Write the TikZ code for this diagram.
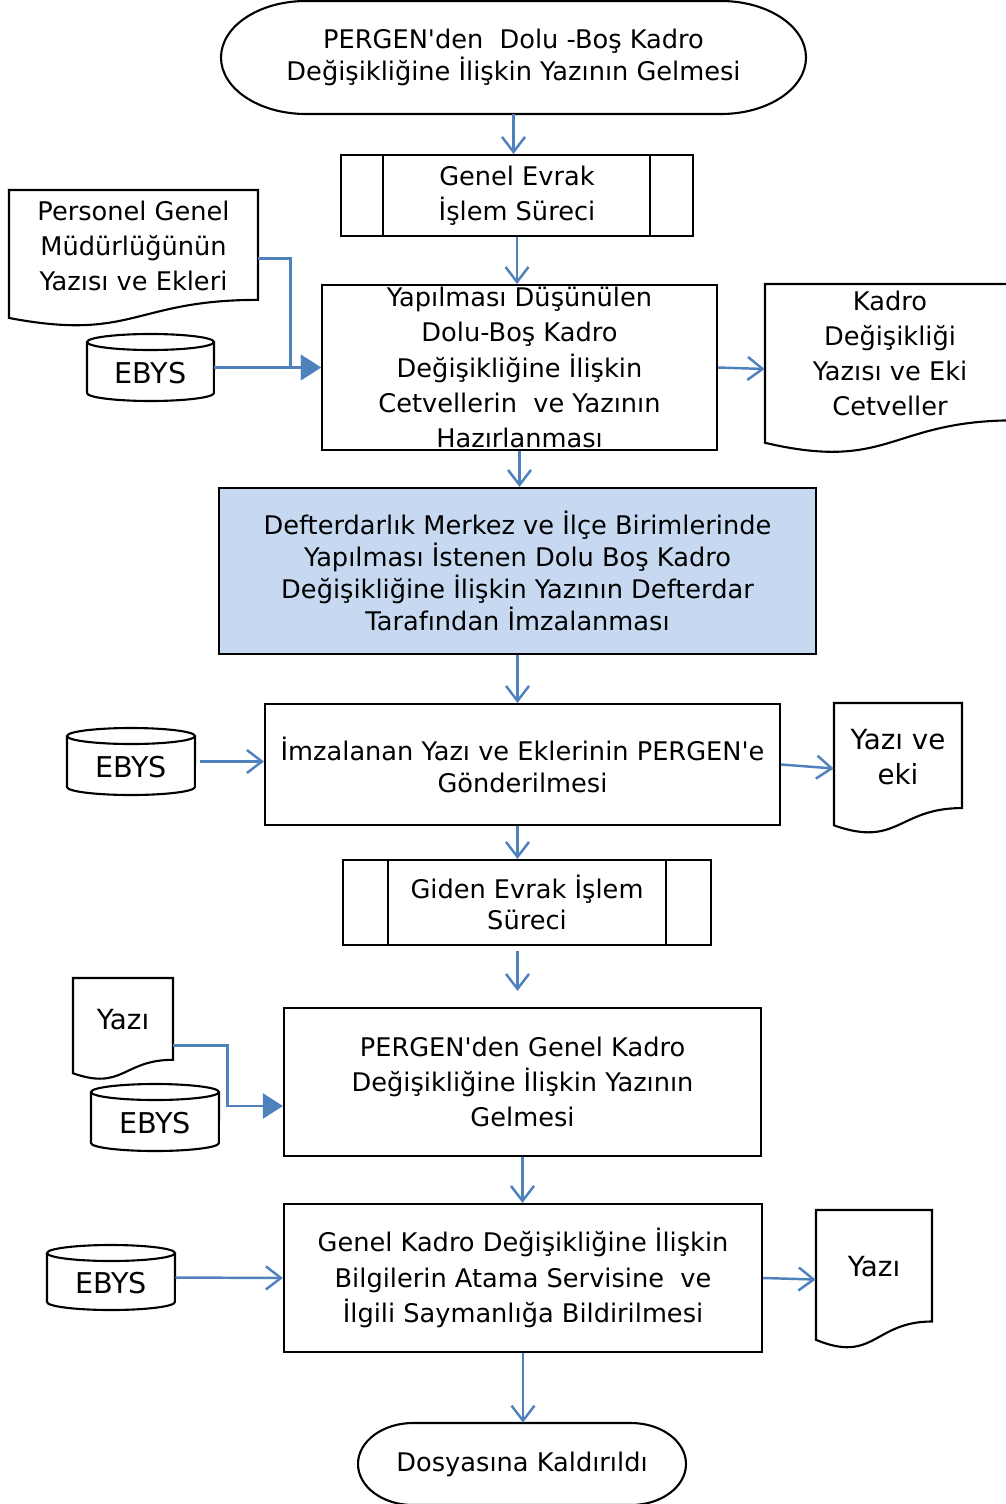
\documentclass[tikz,border=0pt]{standalone}
\usepackage{fontspec}
\setmainfont{DejaVu Sans}[Ligatures=TeXOff]
\usetikzlibrary{arrows.meta,calc}
\definecolor{lblue}{HTML}{4F81BD}
\definecolor{fillb}{HTML}{C6D9F1}
\tikzset{
  shp/.style={draw=black, line width=1.2pt},
  sz/.style 2 args={minimum width={(#1)*0.02cm}, minimum height={(#2)*0.02cm}},
  box/.style={shp, rectangle, inner sep=0pt, align=center},
  t32/.style={font=\fontsize{14.6pt}{18.2pt}\selectfont},
  t31/.style={font=\fontsize{14.6pt}{17.6pt}\selectfont},
  t35/.style={font=\fontsize{14.6pt}{20pt}\selectfont},
  tyz/.style={font=\fontsize{15.8pt}{20pt}\selectfont},
  conn/.style={draw=lblue, line width=1.4pt},
  arr/.style={conn, -{Straight Barb[length=0.3cm,width=0.46cm]}},
  tarr/.style={conn, -{Triangle[length=0.4cm,width=0.5cm]}},
}
% document shape: name, x, y, w, h, text style, text
\newcommand{\docnode}[7]{%
  \draw[shp] (#2,#3) -- ({#2+#4},#3) -- ({#2+#4},{#3+0.802*#5})
    .. controls ({#2+0.5*#4},{#3+0.802*#5}) and ({#2+0.5*#4},{#3+1.107*#5}) .. (#2,{#3+0.934*#5}) -- cycle;
  \node[inner sep=0pt, sz={#4}{#5}] (#1) at ({#2+0.5*#4},{#3+0.5*#5}) {};
  \node[#6, align=center, inner sep=0pt] (#1-t) at ({#2+0.5*#4},{#3+0.41*#5}) {#7};
}
% cylinder: name, x1, y1, x2, y2
\newcommand{\cylnode}[5]{%
  \draw[shp] (#2,{#3+8}) -- (#2,{#5-8})
    arc[start angle=180, end angle=360, x radius={(#4-#2)*0.01cm}, y radius=0.16cm] -- (#4,{#3+8});
  \draw[shp] ({(#2+#4)/2},{#3+8}) ellipse[x radius={(#4-#2)*0.01cm}, y radius=0.16cm];
  \node[inner sep=0pt, sz={#4-#2}{#5-#3}] (#1) at ({(#2+#4)/2},{(#3+#5)/2}) {};
  \node[font=\fontsize{16.3pt}{18pt}\selectfont, inner sep=0pt] (#1-t) at ({(#2+#4)/2},{(#3+#5)/2+6}) {EBYS};
}
% terminator: x1, y1, x2, y2, rx
\newcommand{\ovalshape}[5]{%
  \draw[shp] ({#1+#5},#2) -- ({#3-#5},#2)
    .. controls ({#3-#5+0.5523*#5},#2) and (#3,{(#2+#4)/2-0.5523*(#4-#2)/2}) .. (#3,{(#2+#4)/2})
    .. controls (#3,{(#2+#4)/2+0.5523*(#4-#2)/2}) and ({#3-#5+0.5523*#5},#4) .. ({#3-#5},#4)
    -- ({#1+#5},#4)
    .. controls ({#1+#5-0.5523*#5},#4) and (#1,{(#2+#4)/2+0.5523*(#4-#2)/2}) .. (#1,{(#2+#4)/2})
    .. controls (#1,{(#2+#4)/2-0.5523*(#4-#2)/2}) and ({#1+#5-0.5523*#5},#2) .. cycle;
}
\begin{document}
\begin{tikzpicture}[x=0.02cm, y=-0.02cm]
\useasboundingbox (0,0) rectangle (1006,1504);
\clip (0,0) rectangle (1006,1504);

% start
\ovalshape{221}{1}{806}{114}{85}
\node[t32, align=center, inner sep=0pt, sz={585}{113}] (start) at (513.5,57.5)
  {PERGEN'den\ \ Dolu -Boş Kadro\\Değişikliğine İlişkin Yazının Gelmesi};

% Genel Evrak
\node[box, t35, sz={352}{81}] (ge) at (517,195.5) {Genel Evrak\\İşlem Süreci};
\draw[shp] ([xshift=0.86cm]ge.north west) -- ([xshift=0.86cm]ge.south west);
\draw[shp] ([xshift=-0.88cm]ge.north east) -- ([xshift=-0.88cm]ge.south east);

% left doc + EBYS
\docnode{pgm}{9}{190}{249}{137}{t35}{Personel Genel\\Müdürlüğünün\\Yazısı ve Ekleri}
\cylnode{ebysa}{87}{334}{214}{401}

% hazirlanmasi
\node[box, t35, sz={395}{165}] (hz) at (519.5,367.5)
  {Yapılması Düşünülen\\Dolu-Boş Kadro\\Değişikliğine İlişkin\\Cetvellerin\ \ ve Yazının\\Hazırlanması};

\docnode{kadro}{765}{284}{250}{170}{t35}{Kadro\\Değişikliği\\Yazısı ve Eki\\Cetveller}

% blue box
\node[box, t32, fill=fillb, sz={597}{166}] (blue) at (517.5,571)
  {Defterdarlık Merkez ve İlçe Birimlerinde\\Yapılması İstenen Dolu Boş Kadro\\Değişikliğine İlişkin Yazının Defterdar\\Tarafından İmzalanması};

% imzalanan
\node[box, t32, sz={515}{121}] (imz) at (522.5,764.5)
  {İmzalanan Yazı ve Eklerinin PERGEN'e\\Gönderilmesi};
\cylnode{ebysb}{67}{728}{195}{795}
\docnode{yve}{834}{703}{128}{131}{tyz}{Yazı ve\\eki}

% giden evrak
\node[box, t31, sz={368}{85}] (giden) at (527,902.5) {Giden Evrak İşlem\\Süreci};
\draw[shp] ([xshift=0.92cm]giden.north west) -- ([xshift=0.92cm]giden.south west);
\draw[shp] ([xshift=-0.92cm]giden.north east) -- ([xshift=-0.92cm]giden.south east);

% pergen genel kadro
\docnode{yazia}{73}{978}{100}{102}{tyz}{Yazı}
\cylnode{ebysc}{91}{1084}{219}{1151}
\node[box, t35, sz={477}{148}] (pg2) at (522.5,1082)
  {PERGEN'den Genel Kadro\\Değişikliğine İlişkin Yazının\\Gelmesi};

% genel kadro bildirim
\node[box, t35, sz={478}{148}] (gk) at (523,1278)
  {Genel Kadro Değişikliğine İlişkin\\Bilgilerin Atama Servisine\ \ ve\\İlgili Saymanlığa Bildirilmesi};
\cylnode{ebysd}{47}{1245}{175}{1310}
\docnode{yazib}{816}{1210}{116}{139}{tyz}{Yazı}

% end
\ovalshape{358}{1423}{686}{1505}{55}
\node[t32, inner sep=0pt, sz={328}{82}] (endn) at (522,1464) {Dosyasına Kaldırıldı};

% connectors
\draw[arr] (start.south) -- (start.south |- ge.north);
\draw[arr] (ge.south) -- (ge.south |- hz.north);
\draw[tarr] (pgm.east) -- ++(32,0) |- (hz.west);
\draw[tarr] (ebysa.east) -- (hz.west);
\draw[arr] (hz.east) -- (kadro.west);
\draw[arr] (hz.south) -- (hz.south |- blue.north);
\draw[arr] (blue.south) -- (blue.south |- imz.north);
\draw[arr, shorten <=0.1cm] (ebysb.east) -- (ebysb.east -| imz.west);
\draw[arr] (imz.east) -- (yve.west);
\draw[arr] (blue.south |- imz.south) -- (blue.south |- giden.north);
\draw[arr, shorten <=0.1cm, shorten >=0.32cm] (blue.south |- giden.south) -- (blue.south |- pg2.north);
\coordinate (yaout) at ($(yazia.north east)!0.66!(yazia.south east)$);
\coordinate (pgin) at ($(pg2.north west)!0.66!(pg2.south west)$);
\draw[tarr] (yaout) -- ++(54,0) |- (pgin);
\draw[arr] (pg2.south) -- (pg2.south |- gk.north);
\draw[arr] (ebysd.east) -- (gk.west);
\draw[arr] (gk.east) -- (yazib.west);
\draw[arr] (gk.south) -- (gk.south |- endn.north);
\end{tikzpicture}
\end{document}
